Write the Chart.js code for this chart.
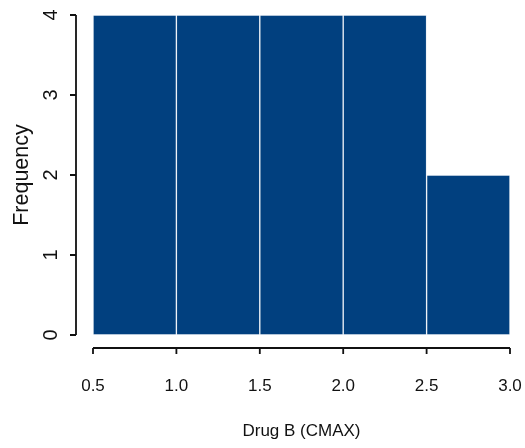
<!DOCTYPE html>
<html>
<head>
<meta charset="utf-8">
<script src="https://cdn.jsdelivr.net/npm/chart.js@4"></script>
<style>
  html, body { margin: 0; padding: 0; background: #fff; }
  #wrap { width: 525px; height: 448px; }
</style>
</head>
<body>
<div id="wrap"><canvas id="hist"></canvas></div>
<script>
// histogram bins and counts
const binStarts = [0.5, 1.0, 1.5, 2.0, 2.5];
const binWidth = 0.5;
const counts = [4, 4, 4, 4, 2];
const xTicks = [0.5, 1.0, 1.5, 2.0, 2.5, 3.0];
const yTicks = [0, 1, 2, 3, 4];

const fontFamily = "'Liberation Sans', Arial, sans-serif";

// keep the axes from reserving extra room for edge labels
function noPad(scale) {
    scale.paddingLeft = 0;
    scale.paddingRight = 0;
    scale.paddingTop = 0;
    scale.paddingBottom = 0;
}

// R-style axes: lines pulled away from the plot region, ticks outside
const rAxes = {
    id: 'rAxes',
    afterDraw(chart) {
        const {ctx, chartArea, scales: {x, y}} = chart;
        const yLineX = chartArea.left - 17;
        const xLineY = chartArea.bottom + 13;
        const tick = 6;
        ctx.save();
        ctx.strokeStyle = '#111';
        ctx.lineWidth = 1.8;
        ctx.beginPath();
        // y axis
        ctx.moveTo(yLineX, y.getPixelForValue(yTicks[0]));
        ctx.lineTo(yLineX, y.getPixelForValue(yTicks[yTicks.length - 1]));
        yTicks.forEach(v => {
            const py = y.getPixelForValue(v);
            ctx.moveTo(yLineX, py);
            ctx.lineTo(yLineX - tick, py);
        });
        // x axis
        ctx.moveTo(x.getPixelForValue(xTicks[0]), xLineY);
        ctx.lineTo(x.getPixelForValue(xTicks[xTicks.length - 1]), xLineY);
        xTicks.forEach(v => {
            const px = x.getPixelForValue(v);
            ctx.moveTo(px, xLineY);
            ctx.lineTo(px, xLineY + tick);
        });
        ctx.stroke();
        ctx.restore();
    }
};

new Chart(document.getElementById('hist').getContext('2d'), {
    type: 'bar',
    data: {
        datasets: [{
            label: 'Frequency',
            data: binStarts.map((s, i) => ({x: s + binWidth / 2, y: counts[i]})),
            backgroundColor: '#01407f',
            borderColor: '#eef2f7',
            borderWidth: 1,
            borderSkipped: false,
            barPercentage: 1,
            categoryPercentage: 1
        }]
    },
    plugins: [rAxes],
    options: {
        responsive: true,
        maintainAspectRatio: false,
        animation: false,
        layout: { padding: { top: 15, right: 15, left: 0, bottom: 0 } },
        plugins: {
            legend: { display: false },
            tooltip: { enabled: false }
        },
        scales: {
            x: {
                type: 'linear',
                offset: false,
                min: 0.5,
                max: 3.0,
                afterBuildTicks: (scale) => { scale.ticks = xTicks.map(v => ({value: v})); },
                afterFit: (scale) => { scale.height = 113; noPad(scale); },
                grid: { display: false, drawTicks: false },
                border: { display: false },
                ticks: {
                    padding: 41,
                    color: '#111',
                    font: { family: fontFamily, size: 17, lineHeight: 1.2 },
                    maxRotation: 0,
                    callback: (v) => Number(v).toFixed(1)
                },
                title: {
                    display: true,
                    text: 'Drug B (CMAX)',
                    color: '#111',
                    font: { family: fontFamily, size: 17, lineHeight: 1.2 },
                    padding: { top: 0, bottom: 6 }
                }
            },
            y: {
                min: 0,
                max: 4,
                afterBuildTicks: (scale) => { scale.ticks = yTicks.map(v => ({value: v})); },
                afterFit: (scale) => { scale.width = 93; noPad(scale); },
                grid: { display: false, drawTicks: false },
                border: { display: false },
                ticks: {
                    padding: 36,
                    color: '#111',
                    minRotation: 90,
                    maxRotation: 90,
                    crossAlign: 'center',
                    font: { family: fontFamily, size: 20, lineHeight: 1.2 }
                },
                title: {
                    display: true,
                    text: 'Frequency',
                    color: '#111',
                    font: { family: fontFamily, size: 21.5, lineHeight: 1.2 },
                    padding: { top: 9, bottom: 0 }
                }
            }
        }
    }
});
</script>
</body>
</html>
